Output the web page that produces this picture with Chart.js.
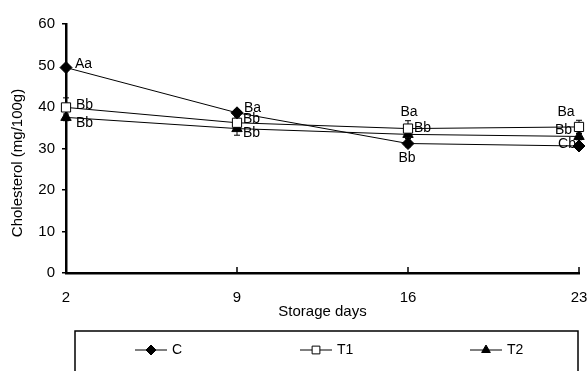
<!DOCTYPE html>
<html>
<head>
<meta charset="utf-8">
<script src="https://cdn.jsdelivr.net/npm/chart.js@4.4.0/dist/chart.umd.min.js"></script>
<style>
  html, body { margin: 0; padding: 0; background: #fff; }
  #wrap { width: 588px; height: 371px; }
</style>
</head>
<body>
<div id="wrap"><canvas id="chart" width="588" height="371"></canvas></div>
<script>
// --- Data ---
const days = [2, 9, 16, 23];
const yTicks = [0, 10, 20, 30, 40, 50, 60];
const seriesNames = ['C', 'T1', 'T2'];

const valuesC = [49.5, 38.6, 31.2, 30.6];
const valuesT1 = [39.9, 36.2, 34.8, 35.2];
const valuesT2 = [37.5, 34.8, 33.4, 32.9];

const errC = [0.6, 0.8, 0.8, 0.6];
const errT1 = [2.3, 1.4, 1.9, 1.6];
const errT2 = [0.8, 1.6, 1.0, 0.8];

const lettersC = ['Aa', 'Ba', 'Bb', 'Cb'];
const lettersT1 = ['Bb', 'Bb', 'Ba', 'Ba'];
const lettersT2 = ['Bb', 'Bb', 'Bb', 'Bb'];

// label placement relative to the point: [dx, dy, align]
const letterPosC = [[9, -3, 'left'], [7, -5, 'left'], [-1, 15, 'center'], [-12, -2, 'center']];
const letterPosT1 = [[10, -2, 'left'], [6, -4, 'left'], [1, -16, 'center'], [-13, -15, 'center']];
const letterPosT2 = [[10, 6, 'left'], [6, 5, 'left'], [6, -6, 'left'], [-7, -6, 'right']];

const yTitle = 'Cholesterol (mg/100g)';
const FONT = 'Liberation Sans, Arial, Helvetica, sans-serif';

function pts(vals) {
  return days.map((d, i) => ({ x: d, y: vals[i] }));
}

// --- error bars ---
const errorBars = {
  id: 'errorBars',
  beforeDatasetsDraw(chart) {
    const { ctx, scales: { x, y } } = chart;
    ctx.save();
    ctx.strokeStyle = '#000';
    ctx.lineWidth = 1;
    chart.data.datasets.forEach(ds => {
      ds.data.forEach((p, i) => {
        const e = ds.errors[i];
        const px = x.getPixelForValue(p.x);
        const top = y.getPixelForValue(p.y + e);
        const bot = y.getPixelForValue(p.y - e);
        ctx.beginPath();
        ctx.moveTo(px, top); ctx.lineTo(px, bot);
        ctx.moveTo(px - 3, top); ctx.lineTo(px + 3, top);
        ctx.moveTo(px - 3, bot); ctx.lineTo(px + 3, bot);
        ctx.stroke();
      });
    });
    ctx.restore();
  }
};

// --- significance letters ---
const letterLabels = {
  id: 'letterLabels',
  afterDatasetsDraw(chart) {
    const { ctx } = chart;
    ctx.save();
    ctx.fillStyle = '#000';
    ctx.font = '14px ' + FONT;
    ctx.textBaseline = 'middle';
    chart.data.datasets.forEach((ds, di) => {
      const meta = chart.getDatasetMeta(di);
      meta.data.forEach((el, i) => {
        const [dx, dy, align] = ds.letterPos[i];
        ctx.textAlign = align;
        ctx.fillText(ds.letters[i], el.x + dx, el.y + dy);
      });
    });
    ctx.restore();
  }
};

// --- inward x ticks, y title, boxed legend ---
const extras = {
  id: 'extras',
  afterDraw(chart) {
    const { ctx, scales: { x, y } } = chart;
    ctx.save();
    ctx.strokeStyle = '#000';
    ctx.lineWidth = 1.5;
    days.forEach(d => {
      const px = x.getPixelForValue(d);
      ctx.beginPath();
      ctx.moveTo(px, y.bottom);
      ctx.lineTo(px, y.bottom - 6);
      ctx.stroke();
    });

    // y axis title
    ctx.save();
    ctx.translate(18, 163);
    ctx.rotate(-Math.PI / 2);
    ctx.fillStyle = '#000';
    ctx.font = '15px ' + FONT;
    ctx.textAlign = 'center';
    ctx.textBaseline = 'middle';
    ctx.fillText(yTitle, 0, 0);
    ctx.restore();

    // legend box
    ctx.lineWidth = 1.5;
    ctx.strokeRect(75, 331, 503, 50);
    const starts = [135, 300, 470];
    const ly = 350;
    ctx.font = '14px ' + FONT;
    ctx.textBaseline = 'middle';
    ctx.textAlign = 'left';
    chart.data.datasets.forEach((ds, i) => {
      const sx = starts[i];
      ctx.strokeStyle = '#000';
      ctx.lineWidth = 1;
      ctx.beginPath();
      ctx.moveTo(sx, ly);
      ctx.lineTo(sx + 32, ly);
      ctx.stroke();
      ctx.fillStyle = ds.pointBackgroundColor;
      ctx.strokeStyle = '#000';
      Chart.helpers.drawPoint(ctx, {
        pointStyle: ds.pointStyle,
        radius: ds.pointRadius - 1,
        rotation: 0,
        borderWidth: 1
      }, sx + 16, ly);
      ctx.fillStyle = '#000';
      ctx.fillText(ds.label, sx + 37, ly);
    });
    ctx.restore();
  }
};

const baseDs = {
  borderColor: '#000',
  borderWidth: 1,
  pointBorderColor: '#000',
  pointBorderWidth: 1,
  tension: 0,
  clip: false
};

new Chart(document.getElementById('chart').getContext('2d'), {
  type: 'line',
  data: {
    datasets: [
      Object.assign({}, baseDs, {
        label: seriesNames[0], data: pts(valuesC), errors: errC,
        letters: lettersC, letterPos: letterPosC,
        pointStyle: 'rectRot', pointRadius: 6, pointBackgroundColor: '#000'
      }),
      Object.assign({}, baseDs, {
        label: seriesNames[1], data: pts(valuesT1), errors: errT1,
        letters: lettersT1, letterPos: letterPosT1,
        pointStyle: 'rect', pointRadius: 6.5, pointBackgroundColor: '#fff'
      }),
      Object.assign({}, baseDs, {
        label: seriesNames[2], data: pts(valuesT2), errors: errT2,
        letters: lettersT2, letterPos: letterPosT2,
        pointStyle: 'triangle', pointRadius: 6, pointBackgroundColor: '#000'
      })
    ]
  },
  options: {
    responsive: false,
    animation: false,
    devicePixelRatio: 1,
    layout: { padding: { top: 24, right: 9, bottom: 50, left: 0 } },
    plugins: {
      legend: { display: false },
      tooltip: { enabled: false }
    },
    scales: {
      x: {
        type: 'linear',
        min: days[0],
        max: days[days.length - 1],
        afterBuildTicks: s => { s.ticks = days.map(v => ({ value: v })); },
        afterFit: s => { s.height = 48; s.paddingLeft = 0; s.paddingRight = 0; },
        grid: { drawOnChartArea: false, drawTicks: false },
        border: { color: '#000', width: 2.5 },
        ticks: { color: '#000', font: { family: FONT, size: 15 }, padding: 16, maxRotation: 0 },
        title: { display: true, text: 'Storage days', color: '#000', font: { family: FONT, size: 15 }, padding: 0 }
      },
      y: {
        min: 0,
        max: 60,
        afterBuildTicks: s => { s.ticks = yTicks.map(v => ({ value: v })); },
        afterFit: s => { s.width = 66; s.paddingTop = 0; s.paddingBottom = 0; },
        grid: { drawOnChartArea: false, color: '#000', tickLength: 4, lineWidth: 1.5 },
        border: { color: '#000', width: 2.5 },
        ticks: { color: '#000', font: { family: FONT, size: 15 }, padding: 7 }
      }
    }
  },
  plugins: [errorBars, letterLabels, extras]
});
</script>
</body>
</html>
